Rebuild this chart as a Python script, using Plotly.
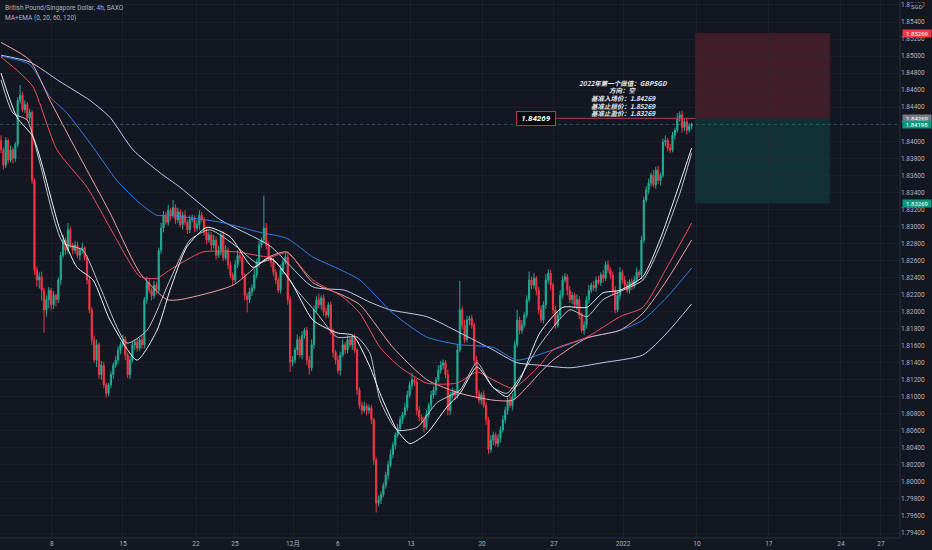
import plotly.graph_objects as go

# ---------------- data ----------------
first_open = 1.8401
closes = [
    1.8390, 1.8372, 1.8401, 1.8378, 1.8390, 1.8380, 1.8396, 1.8448, 1.8454, 1.8437,
    1.8443, 1.8427, 1.8434, 1.8354, 1.8249, 1.8237, 1.8241, 1.8225, 1.8202, 1.8214,
    1.8225, 1.8208, 1.8219, 1.8214, 1.8237, 1.8266, 1.8284, 1.8272, 1.8296, 1.8278,
    1.8272, 1.8278, 1.8266, 1.8272, 1.8275, 1.8263, 1.8237, 1.8202, 1.8167, 1.8143,
    1.8161, 1.8126, 1.8137, 1.8114, 1.8104, 1.8114, 1.8126, 1.8137, 1.8143, 1.8155,
    1.8161, 1.8167, 1.8149, 1.8126, 1.8143, 1.8161, 1.8164, 1.8157, 1.8167, 1.8161,
    1.8214, 1.8234, 1.8225, 1.8219, 1.8231, 1.8225, 1.8272, 1.8298, 1.8313, 1.8305,
    1.8319, 1.8313, 1.8322, 1.8308, 1.8317, 1.8302, 1.8313, 1.8305, 1.8296, 1.8308,
    1.8310, 1.8298, 1.8302, 1.8313, 1.8308, 1.8293, 1.8284, 1.8290, 1.8278, 1.8284,
    1.8266, 1.8272, 1.8290, 1.8263, 1.8272, 1.8255, 1.8243, 1.8237, 1.8255, 1.8266,
    1.8263, 1.8243, 1.8219, 1.8214, 1.8223, 1.8228, 1.8243, 1.8258, 1.8278, 1.8284,
    1.8298, 1.8278, 1.8263, 1.8258, 1.8246, 1.8237, 1.8225, 1.8249, 1.8258, 1.8264,
    1.8214, 1.8141, 1.8143, 1.8155, 1.8167, 1.8149, 1.8172, 1.8178, 1.8143, 1.8134,
    1.8161, 1.8202, 1.8214, 1.8208, 1.8216, 1.8200, 1.8196, 1.8208, 1.8178, 1.8152,
    1.8143, 1.8131, 1.8149, 1.8161, 1.8155, 1.8167, 1.8161, 1.8169, 1.8155, 1.8108,
    1.8090, 1.8084, 1.8089, 1.8084, 1.8087, 1.8073, 1.8026, 1.7975, 1.7979, 1.7985,
    1.7996, 1.8008, 1.8020, 1.8032, 1.8043, 1.8055, 1.8063, 1.8073, 1.8079, 1.8087,
    1.8102, 1.8114, 1.8120, 1.8117, 1.8084, 1.8076, 1.8073, 1.8064, 1.8079, 1.8090,
    1.8102, 1.8108, 1.8120, 1.8131, 1.8137, 1.8140, 1.8126, 1.8084, 1.8102, 1.8106,
    1.8102, 1.8155, 1.8202, 1.8184, 1.8167, 1.8190, 1.8192, 1.8184, 1.8143, 1.8104,
    1.8096, 1.8102, 1.8090, 1.8073, 1.8038, 1.8049, 1.8055, 1.8045, 1.8051, 1.8061,
    1.8073, 1.8084, 1.8096, 1.8090, 1.8100, 1.8161, 1.8190, 1.8178, 1.8184, 1.8196,
    1.8214, 1.8237, 1.8231, 1.8239, 1.8225, 1.8202, 1.8190, 1.8208, 1.8237, 1.8245,
    1.8231, 1.8202, 1.8184, 1.8196, 1.8219, 1.8237, 1.8241, 1.8225, 1.8214, 1.8219,
    1.8208, 1.8214, 1.8196, 1.8178, 1.8184, 1.8214, 1.8225, 1.8231, 1.8228, 1.8237,
    1.8234, 1.8243, 1.8239, 1.8255, 1.8249, 1.8243, 1.8225, 1.8202, 1.8219, 1.8246,
    1.8237, 1.8231, 1.8225, 1.8235, 1.8230, 1.8237, 1.8246, 1.8243, 1.8284, 1.8331,
    1.8343, 1.8351, 1.8360, 1.8349, 1.8366, 1.8354, 1.8360, 1.8399, 1.8401, 1.8392,
    1.8390, 1.8407, 1.8413, 1.8427, 1.8431, 1.8416, 1.8423, 1.8413, 1.8418, 1.84198,
]
# wick extensions in pips (0.0001)
wick_up = [
    6, 3, 4, 2, 5, 3, 3, 4, 12, 4,   5, 3, 4, 2, 3, 4, 5, 6, 3, 5,
    4, 3, 5, 2, 3, 4, 6, 3, 8, 4,    3, 5, 4, 3, 6, 2, 3, 4, 3, 5,
    6, 3, 5, 4, 3, 2, 4, 3, 5, 4,    3, 6, 4, 3, 5, 4, 3, 4, 2, 5,
    3, 7, 4, 3, 5, 4, 3, 6, 5, 4,    6, 3, 9, 4, 5, 3, 4, 6, 3, 5,
    4, 3, 5, 6, 4, 3, 5, 4, 3, 6,    4, 5, 3, 4, 6, 3, 4, 3, 5, 6,
    3, 4, 2, 3, 5, 4, 6, 4, 5, 3,    38, 6, 4, 3, 5, 4, 3, 6, 4, 5,
    3, 4, 5, 3, 6, 4, 5, 3, 4, 5,    6, 5, 4, 7, 3, 4, 5, 3, 4, 2,
    3, 5, 4, 6, 3, 5, 4, 3, 5, 2,    3, 4, 5, 3, 4, 3, 2, 3, 5, 4,
    3, 4, 5, 6, 4, 3, 5, 4, 3, 6,    5, 4, 8, 3, 4, 5, 3, 4, 6, 3,
    5, 4, 3, 6, 5, 4, 3, 6, 4, 5,    3, 7, 34, 4, 6, 5, 3, 4, 3, 5,
    4, 3, 5, 4, 3, 6, 4, 3, 5, 4,    5, 4, 3, 6, 4, 5, 12, 4, 6, 3,
    5, 10, 4, 6, 3, 4, 5, 4, 7, 5,   4, 3, 5, 4, 6, 5, 4, 3, 5, 4,
    3, 6, 4, 3, 5, 4, 6, 3, 5, 4,    5, 3, 6, 4, 5, 3, 4, 5, 4, 6,
    3, 5, 4, 3, 4, 5, 6, 3, 5, 4,    4, 5, 3, 6, 4, 5, 3, 4, 6, 3,
    5, 4, 3, 6, 4, 5, 3, 4, 3, 2,
]
wick_dn = [
    4, 5, 3, 4, 3, 6, 4, 3, 4, 3,    4, 3, 5, 4, 6, 8, 10, 12, 27, 8,
    10, 6, 5, 8, 4, 6, 3, 5, 4, 3,   5, 4, 3, 6, 4, 3, 5, 4, 6, 3,
    8, 5, 6, 4, 5, 3, 4, 5, 3, 4,    5, 3, 6, 4, 5, 3, 6, 4, 3, 5,
    4, 5, 3, 6, 4, 5, 3, 4, 5, 3,    4, 6, 3, 5, 4, 3, 6, 4, 5, 4,
    3, 5, 4, 6, 3, 4, 5, 3, 6, 4,    5, 3, 6, 4, 3, 5, 4, 6, 3, 4,
    5, 4, 6, 15, 4, 5, 3, 4, 6, 3,   4, 5, 3, 6, 4, 5, 3, 4, 6, 3,
    6, 12, 5, 4, 6, 3, 5, 4, 6, 8,   4, 5, 3, 4, 6, 5, 4, 3, 5, 6,
    5, 4, 6, 3, 5, 4, 3, 6, 4, 6,    4, 5, 3, 6, 4, 5, 6, 11, 4, 5,
    3, 4, 5, 3, 4, 5, 3, 4, 5, 3,    4, 3, 5, 4, 6, 5, 4, 6, 3, 4,
    5, 4, 6, 3, 4, 5, 4, 6, 5, 4,    6, 4, 3, 5, 4, 3, 6, 4, 5, 6,
    4, 5, 3, 6, 5, 4, 6, 3, 4, 5,    3, 4, 5, 3, 6, 4, 3, 5, 4, 3,
    4, 3, 5, 4, 6, 5, 3, 4, 5, 4,    6, 5, 4, 3, 5, 4, 3, 6, 4, 5,
    4, 6, 5, 3, 5, 4, 5, 3, 4, 5,    3, 4, 5, 3, 4, 5, 6, 4, 3, 5,
    4, 5, 3, 4, 5, 3, 4, 3, 5, 4,    3, 5, 4, 3, 5, 4, 6, 3, 5, 4,
    4, 3, 5, 3, 4, 6, 4, 5, 3, 4,
]

# moving averages (bar index, price)
ema20_x = [0, 6.7, 13.4, 24.7, 31.8, 38.5, 45.6, 56.9, 65.3, 70.7, 77.8, 86.2, 95.8, 105.4, 112.6,
           120.9, 130.5, 140.6, 147.3, 154.4, 158.6, 165.7, 171.1, 178.2, 186.6, 192.1, 199.2,
           205.9, 211.7, 217.2, 225.5, 235.1, 245.2, 251.9, 259.0, 268.6, 275.7, 284.1, 289]
ema20_y = [1.8480, 1.8428, 1.8405, 1.8296, 1.8252, 1.8237, 1.8190, 1.8143, 1.8178, 1.8225, 1.8276,
           1.8299, 1.8288, 1.8252, 1.8263, 1.8237, 1.8190, 1.8175, 1.8172, 1.8135, 1.8104, 1.8061,
           1.8045, 1.8057, 1.8088, 1.8104, 1.8135, 1.8111, 1.8100, 1.8120, 1.8175, 1.8205, 1.8205,
           1.8222, 1.8225, 1.8241, 1.8284, 1.8351, 1.8392]
ma20_x = [0, 5.0, 10.9, 16.3, 25.9, 34.3, 41.4, 52.7, 61.1, 70.7, 79.1, 87.4, 98.7, 107.1, 113.8,
          123.8, 132.2, 140.6, 149.0, 154.4, 158.6, 165.7, 174.1, 182.4, 192.1, 199.2, 205.9,
          211.7, 217.2, 225.5, 238.1, 245.2, 251.9, 260.3, 268.6, 275.7, 284.1, 289]
ma20_y = [1.8472, 1.8433, 1.8425, 1.8374, 1.8281, 1.8272, 1.8229, 1.8163, 1.8178, 1.8237, 1.8284,
          1.8296, 1.8276, 1.8257, 1.8261, 1.8225, 1.8198, 1.8170, 1.8170, 1.8151, 1.8096, 1.8061,
          1.8064, 1.8093, 1.8108, 1.8140, 1.8111, 1.8104, 1.8123, 1.8161, 1.8202, 1.8194, 1.8214,
          1.8225, 1.8237, 1.8276, 1.8339, 1.8386]
ema60_x = [0, 8.0, 13.4, 23.4, 36.0, 46.9, 58.2, 65.3, 70.7, 84.5, 98.7, 112.6, 119.7, 130.5, 143.1,
           150.2, 158.6, 166.9, 178.2, 190.8, 199.2, 205.9, 214.2, 225.5, 231.0, 245.2, 259.0,
           268.6, 278.7, 289]
ema60_y = [1.8499, 1.8480, 1.8464, 1.8390, 1.8346, 1.8292, 1.8241, 1.8239, 1.8249, 1.8270, 1.8270,
           1.8264, 1.8269, 1.8237, 1.8217, 1.8198, 1.8158, 1.8135, 1.8116, 1.8116, 1.8129, 1.8120,
           1.8110, 1.8137, 1.8155, 1.8170, 1.8194, 1.8205, 1.8252, 1.8304]
ma60_x = [0, 12.1, 20.5, 33.1, 45.6, 58.2, 69.5, 74.9, 97.1, 111.3, 119.7, 130.5, 143.1, 150.2,
          164.0, 178.2, 192.1, 205.9, 214.2, 225.5, 231.0, 245.2, 259.0, 268.6, 278.7, 289]
ma60_y = [1.8516, 1.8495, 1.8448, 1.8381, 1.8316, 1.8245, 1.8214, 1.8214, 1.8231, 1.8263, 1.8270,
          1.8234, 1.8219, 1.8208, 1.8158, 1.8120, 1.8104, 1.8096, 1.8096, 1.8128, 1.8143, 1.8169,
          1.8178, 1.8198, 1.8237, 1.8284]
ema120_x = [0, 12.1, 20.5, 27.6, 38.5, 48.5, 58.2, 65.3, 70.7, 91.6, 108.4, 119.7, 130.5, 140.6,
            150.2, 164.0, 178.2, 192.1, 205.9, 215.9, 231.0, 245.2, 259.0, 268.6, 278.7, 289]
ema120_y = [1.8500, 1.8490, 1.8452, 1.8433, 1.8393, 1.8354, 1.8327, 1.8313, 1.8313, 1.8305, 1.8293,
            1.8286, 1.8264, 1.8251, 1.8237, 1.8198, 1.8170, 1.8161, 1.8158, 1.8143, 1.8155, 1.8169,
            1.8178, 1.8190, 1.8217, 1.8251]
ma120_x = [0, 12.1, 24.7, 37.2, 45.6, 55.2, 66.5, 74.9, 91.6, 112.6, 130.5, 143.9, 154.4, 162.8,
           178.2, 192.1, 205.9, 215.9, 225.5, 238.1, 251.9, 268.6, 278.7, 289]
ma120_y = [1.8501, 1.8493, 1.8470, 1.8448, 1.8428, 1.8390, 1.8363, 1.8346, 1.8308, 1.8277, 1.8229,
           1.8225, 1.8211, 1.8202, 1.8194, 1.8175, 1.8155, 1.8140, 1.8137, 1.8134, 1.8140, 1.8149,
           1.8175, 1.8209]

entry_price = 1.84269
stop_price = 1.85269
target_price = 1.83269
last_price = 1.84198

tick_pos = [21.3, 51.0, 81.6, 97.9, 122.2, 141.0, 171.5, 201.3, 231.4, 260.3, 291.2, 321.3, 351.5, 368.2]
tick_text = ["8", "15", "22", "25", "12月", "6", "13", "20", "27", "2022", "10", "17", "24", "27"]

note_lines = ["2022年第一个做值：GBPSGD", "方向：空", "基准入场价：1.84269",
              "基准止损价：1.85269", "基准止盈价：1.83269"]

# ---------------- build ----------------
n = len(closes)
bars = list(range(n))
opens = [first_open] + closes[:-1]
highs = [max(o, c) + w * 0.0001 for o, c, w in zip(opens, closes, wick_up)]
lows = [min(o, c) - w * 0.0001 for o, c, w in zip(opens, closes, wick_dn)]

BG = "#131722"
UP = "#22ab94"
DN = "#f23645"
TXT = "#b2b5be"
FONT = "Roboto, Noto Sans CJK SC, sans-serif"

W, H = 932, 550
ML, MR, MT, MB = 0, 32, 0, 12
PW, PH = W - ML - MR, H - MT - MB

def py(ypx):
    return 1 - ypx / PH

def px(xpx):
    return xpx / PW

fig = go.Figure()
fig.add_trace(go.Candlestick(
    x=bars, open=opens, high=highs, low=lows, close=closes,
    increasing=dict(line=dict(color=UP, width=1), fillcolor=UP),
    decreasing=dict(line=dict(color=DN, width=1), fillcolor=DN),
    whiskerwidth=0, hoverinfo="skip", showlegend=False))

lines = [
    (ma120_x, ma120_y, "#bfcbef"),
    (ema120_x, ema120_y, "#2f7fe8"),
    (ma60_x, ma60_y, "#f2a3a6"),
    (ema60_x, ema60_y, "#f0505c"),
    (ma20_x, ma20_y, "#c2c3cc"),
    (ema20_x, ema20_y, "#f4f4f6"),
]
for xs, ys, col in lines:
    fig.add_trace(go.Scatter(x=xs, y=ys, mode="lines",
                             line=dict(color=col, width=1, shape="spline", smoothing=0.6),
                             hoverinfo="skip", showlegend=False))

box_start, box_end = 290.4, 346.9
label_x = 223.8
label_right = 232.2

shapes = [
    dict(type="rect", xref="x", yref="y", x0=box_start, x1=box_end, y0=entry_price, y1=stop_price,
         fillcolor="rgba(242,54,69,0.2)", line=dict(width=0), layer="below"),
    dict(type="rect", xref="x", yref="y", x0=box_start, x1=box_end, y0=target_price, y1=entry_price,
         fillcolor="rgba(8,153,129,0.2)", line=dict(width=0), layer="below"),
    dict(type="line", xref="paper", yref="y", x0=0, x1=1, y0=last_price, y1=last_price,
         line=dict(color="rgba(38,166,154,0.45)", width=1, dash="dot")),
    dict(type="line", xref="x", yref="y", x0=label_right, x1=box_start, y0=entry_price, y1=entry_price,
         line=dict(color="#b83a4b", width=1)),
    dict(type="line", xref="paper", yref="paper", x0=1, x1=1, y0=0, y1=1,
         line=dict(color="#2a2e39", width=1)),
    dict(type="line", xref="paper", yref="paper", x0=0, x1=1, y0=0, y1=0,
         line=dict(color="#2a2e39", width=1)),
]

ann = []
ann.append(dict(xref="paper", yref="paper", x=px(3), y=py(8), xanchor="left", yanchor="middle",
                text="British Pound/Singapore Dollar, 4h, SAXO", showarrow=False,
                font=dict(family=FONT, size=6.5, color=TXT)))
ann.append(dict(xref="paper", yref="paper", x=px(3), y=py(18), xanchor="left", yanchor="middle",
                text="MA+EMA (0, 20, 60, 120)", showarrow=False,
                font=dict(family=FONT, size=6.5, color=TXT)))
for t, ypx in zip(note_lines, [83, 90.5, 98, 105.5, 113]):
    ann.append(dict(xref="paper", yref="paper", x=px(623), y=py(ypx), xanchor="center", yanchor="middle",
                    text="<b><i>" + t + "</i></b>", showarrow=False, borderpad=0,
                    font=dict(family="Noto Sans CJK SC, Roboto", size=6.5, color="#e8e8ec")))
ann.append(dict(xref="x", yref="y", x=label_x, y=entry_price, xanchor="center", yanchor="middle",
                text="<b><i>1.84269</i></b>", showarrow=False, bgcolor="#05070b",
                bordercolor="#b83a4b", borderwidth=1, borderpad=2, width=34,
                font=dict(family=FONT, size=8, color="#ffffff")))
for val, col in [(stop_price, "#f23645"), (entry_price, "#787b86"),
                 (last_price, "#089981"), (target_price, "#089981")]:
    ann.append(dict(xref="paper", yref="y", x=1, y=val, xanchor="left", yanchor="middle", xshift=2,
                    text="%.5f" % val, showarrow=False, bgcolor=col, width=28, height=7,
                    borderpad=0, font=dict(family=FONT, size=6, color="#ffffff")))
ann.append(dict(xref="paper", yref="paper", x=px(917), y=py(6), xanchor="center", yanchor="middle",
                text="SGD", showarrow=False, bgcolor=BG, borderpad=0,
                font=dict(family=FONT, size=6, color=TXT)))

fig.update_layout(
    width=W, height=H,
    margin=dict(l=ML, r=MR, t=MT, b=MB, pad=0),
    paper_bgcolor=BG, plot_bgcolor=BG,
    shapes=shapes, annotations=ann, showlegend=False,
    xaxis=dict(range=[-0.42, 376.2], tickvals=tick_pos, ticktext=tick_text,
               tickfont=dict(family=FONT, size=6.5, color=TXT), ticks="",
               showgrid=True, gridcolor="rgba(42,46,57,0.35)", gridwidth=1,
               zeroline=False, showline=False, rangeslider=dict(visible=False), fixedrange=True),
    yaxis=dict(side="right", range=[1.793413, 1.856583], dtick=0.002, tick0=1.794,
               tickformat=".5f", tickfont=dict(family=FONT, size=6.5, color=TXT), ticks="",
               showgrid=True, gridcolor="rgba(42,46,57,0.35)", gridwidth=1,
               zeroline=False, showline=False, fixedrange=True),
)

fig.write_html("out.html", config=dict(displayModeBar=False),
               post_script="document.body.style.margin='0';document.body.style.padding='0';"
                           "document.body.style.background='#131722';")
